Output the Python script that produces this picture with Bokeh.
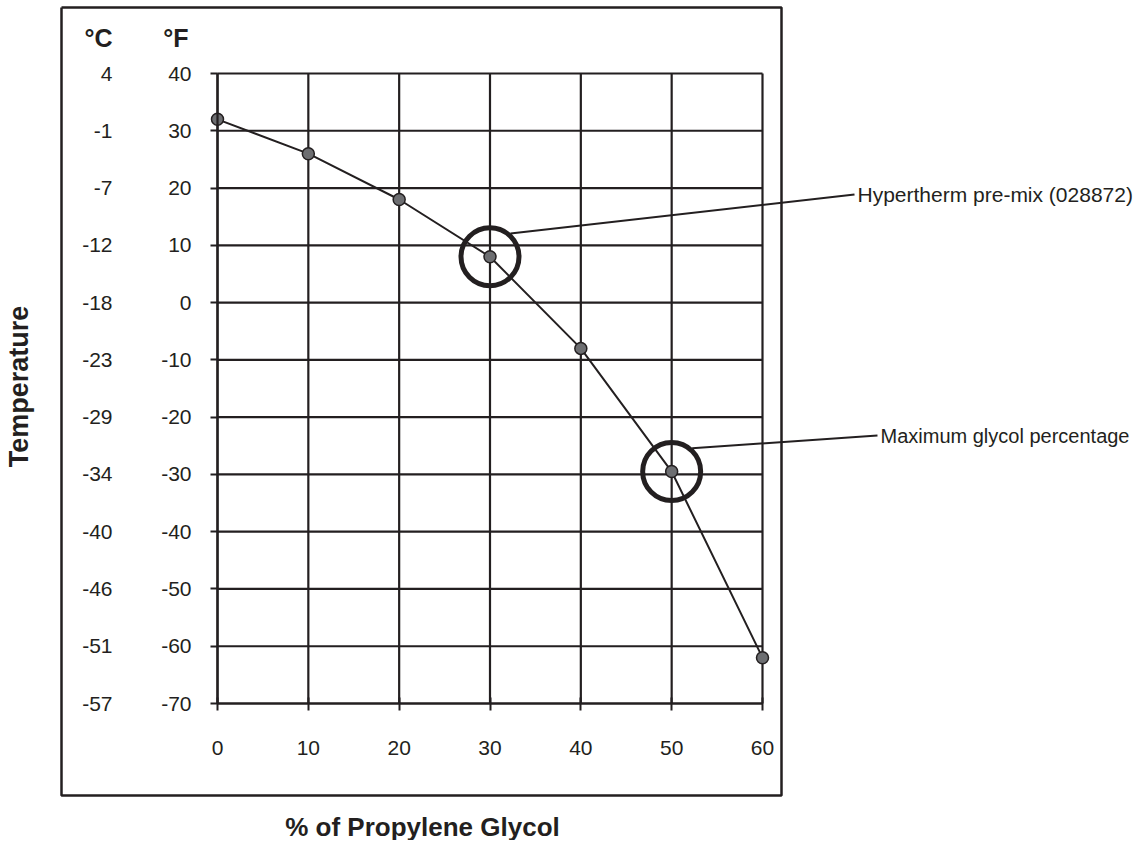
from bokeh.plotting import figure
from bokeh.models import (Range1d, FixedTicker, Label, LabelSet, ColumnDataSource)
from bokeh.core.properties import value
from bokeh.embed import file_html
from bokeh.resources import INLINE
import math

# ---------------- data ----------------
glycol_pct = [0, 10, 20, 30, 40, 50, 60]
freeze_f = [32, 26, 18, 8, -8, -29.5, -62]
x_ticks = [0, 10, 20, 30, 40, 50, 60]
f_ticks = [40, 30, 20, 10, 0, -10, -20, -30, -40, -50, -60, -70]
c_labels = ["4", "-1", "-7", "-12", "-18", "-23", "-29", "-34", "-40", "-46", "-51", "-57"]
callout_pct = [30, 50]
callout_text = ["Hypertherm pre-mix (028872)", "Maximum glycol percentage"]

INK = "#231f20"
FONT = "Liberation Sans"

W, H = 1140, 840
# pixel anchors of the inner chart area (layout)
PX0, PX1 = 217, 762      # x = 0 .. 60
PY0, PY1 = 73, 703       # y = 40 .. -70
XMIN, XMAX = min(x_ticks), max(x_ticks)
YMIN, YMAX = min(f_ticks), max(f_ticks)
sx = (PX1 - PX0) / (XMAX - XMIN)
sy = (PY1 - PY0) / (YMAX - YMIN)

def xd(px):
    return XMIN + (px - PX0) / sx

def yd(py):
    return YMAX - (py - PY0) / sy

p = figure(width=W, height=H, output_backend="svg", toolbar_location=None,
           x_range=Range1d(xd(0), xd(W)), y_range=Range1d(yd(H), yd(0)),
           min_border=0)
p.min_border_left = p.min_border_right = p.min_border_top = p.min_border_bottom = 0
p.background_fill_color = "white"
p.border_fill_color = "white"
p.outline_line_color = None
p.xgrid.visible = False
p.ygrid.visible = False

# grid lines
p.segment(x0=x_ticks, y0=[YMIN] * len(x_ticks), x1=x_ticks, y1=[YMAX] * len(x_ticks),
          line_color=INK, line_width=2.2)
p.segment(x0=[XMIN] * len(f_ticks), y0=f_ticks, x1=[XMAX] * len(f_ticks), y1=f_ticks,
          line_color=INK, line_width=2.2)

# axes placed at the chart edges
p.yaxis.fixed_location = XMIN
p.xaxis.fixed_location = YMIN
p.yaxis.bounds = (YMIN, YMAX)
p.xaxis.bounds = (XMIN, XMAX)
p.yaxis.ticker = FixedTicker(ticks=f_ticks)
p.xaxis.ticker = FixedTicker(ticks=x_ticks)
p.yaxis.major_label_overrides = {t: str(t) for t in f_ticks}
p.xaxis.major_label_overrides = {t: str(t) for t in x_ticks}
for ax in (p.xaxis, p.yaxis):
    ax.axis_line_color = INK
    ax.axis_line_width = 2.2
    ax.major_tick_line_color = INK
    ax.major_tick_line_width = 2
    ax.minor_tick_line_color = None
    ax.major_label_text_font = FONT
    ax.major_label_text_font_size = "21px"
    ax.major_label_text_color = INK
p.yaxis.major_tick_out = 7
p.yaxis.major_tick_in = 0
p.yaxis.major_label_standoff = 19
p.xaxis.major_tick_out = 7
p.xaxis.major_tick_in = 6
p.xaxis.major_label_standoff = 30

# Celsius labels
c_src = ColumnDataSource(dict(y=f_ticks, t=c_labels, x=[xd(112)] * len(f_ticks)))
p.add_layout(LabelSet(x="x", y="y", text="t", source=c_src, text_align="right",
                      text_baseline="middle", text_font=value(FONT),
                      text_font_size=value("21px"), text_color=INK))

# headers
p.add_layout(Label(x=xd(112), y=yd(37), text="°C", text_align="right", text_baseline="middle",
                   text_font=FONT, text_font_style="bold", text_font_size="25px", text_color=INK))
p.add_layout(Label(x=xd(188), y=yd(37), text="°F", text_align="right", text_baseline="middle",
                   text_font=FONT, text_font_style="bold", text_font_size="25px", text_color=INK))

# axis titles
p.add_layout(Label(x=xd(18), y=yd(386), text="Temperature", angle=math.pi / 2,
                   text_align="center", text_baseline="middle", text_font=FONT,
                   text_font_style="bold", text_font_size="27px", text_color=INK))
p.add_layout(Label(x=xd(422), y=yd(826), text="% of Propylene Glycol",
                   text_align="center", text_baseline="middle", text_font=FONT,
                   text_font_style="bold", text_font_size="26px", text_color=INK))

# outer box
bx0, bx1, by0, by1 = xd(61), xd(781), yd(7), yd(795)
p.line([bx0, bx1, bx1, bx0, bx0], [by0, by0, by1, by1, by0], line_color=INK, line_width=2.5)

# curve and points
src = ColumnDataSource(dict(x=glycol_pct, y=freeze_f))
p.line("x", "y", source=src, line_color=INK, line_width=2)
p.scatter("x", "y", source=src, size=12, fill_color="#6d6e71", line_color=INK, line_width=1.5)

# callouts
ring_d = 58
cy = [freeze_f[glycol_pct.index(c)] for c in callout_pct]
p.scatter(callout_pct, cy, size=ring_d, fill_color=None, line_color=INK, line_width=5)
text_pos = [(857, 194), (880, 435)]
text_size = ["21px", "20px"]
for cx, cyy, txt, (tx, ty), fs in zip(callout_pct, cy, callout_text, text_pos, text_size):
    r = ring_d / 2 + 2
    ang = 0.85
    x_start = cx + (r * math.cos(ang)) / sx
    y_start = cyy + (r * math.sin(ang)) / sy
    p.line([x_start, xd(tx - 3)], [y_start, yd(ty)], line_color=INK, line_width=2)
    p.add_layout(Label(x=xd(tx), y=yd(ty), text=txt, text_align="left",
                       text_baseline="middle", text_font=FONT, text_font_size=fs,
                       text_color=INK))

open("out.html", "w").write(file_html(p, INLINE))
